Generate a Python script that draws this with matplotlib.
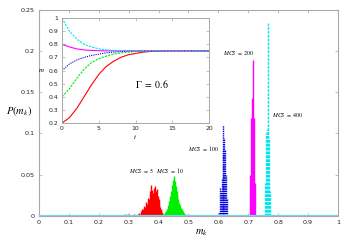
import matplotlib
matplotlib.use("Agg")
import matplotlib.pyplot as plt
import numpy as np

plt.rcParams['mathtext.fontset'] = 'stix'
plt.rcParams['font.family'] = ['DejaVu Sans']

# ---- histogram data: P(m_k) ----
m_red = [0.286, 0.297, 0.319, 0.325, 0.331, 0.334, 0.337, 0.340, 0.343, 0.346, 0.349, 0.352, 0.355,
         0.358, 0.361, 0.364, 0.367, 0.370, 0.373, 0.376, 0.379, 0.382, 0.385, 0.388, 0.391,
         0.394, 0.397, 0.400, 0.403, 0.406, 0.409, 0.412, 0.415]
p_red = [0.002, 0.002, 0.003, 0.001, 0.002, 0.004, 0.003, 0.006, 0.005, 0.009, 0.008, 0.012, 0.011,
         0.017, 0.015, 0.022, 0.020, 0.030, 0.026, 0.038, 0.031, 0.028, 0.034, 0.036, 0.030,
         0.033, 0.024, 0.020, 0.015, 0.011, 0.008, 0.005, 0.003]

m_green = [0.412, 0.415, 0.418, 0.421, 0.424, 0.427, 0.430, 0.433, 0.436, 0.439, 0.442, 0.445,
           0.448, 0.451, 0.454, 0.457, 0.460, 0.463, 0.466, 0.469, 0.472, 0.475, 0.478, 0.481,
           0.484, 0.487, 0.490]
p_green = [0.002, 0.003, 0.002, 0.005, 0.006, 0.008, 0.010, 0.013, 0.018, 0.024, 0.030, 0.038,
           0.044, 0.048, 0.042, 0.036, 0.030, 0.025, 0.020, 0.016, 0.013, 0.010, 0.008, 0.006,
           0.004, 0.003, 0.001]

m_blue = [0.602, 0.605, 0.608, 0.611, 0.614, 0.617, 0.620, 0.623, 0.626, 0.629]
p_blue = [0.005, 0.035, 0.030, 0.045, 0.080, 0.110, 0.095, 0.080, 0.050, 0.020]

m_mag = [0.706, 0.709, 0.712, 0.715, 0.718, 0.721]
p_mag = [0.050, 0.119, 0.143, 0.189, 0.119, 0.040]

m_cyan = [0.757, 0.760, 0.763, 0.766, 0.769, 0.772]
p_cyan = [0.040, 0.100, 0.105, 0.234, 0.095, 0.030]

labels = ['MCS = 5', 'MCS = 10', 'MCS = 100', 'MCS = 200', 'MCS = 400']
label_pos = [(0.300, 0.0495), (0.390, 0.0495), (0.500, 0.0765), (0.615, 0.192), (0.780, 0.118)]

# ---- inset data: m(t) ----
t_vals = [0, 1, 2, 3, 4, 5, 6, 7, 8, 9, 10, 11, 12, 13, 14, 15, 16, 17, 18, 19, 20]
m_t_red = [0.20, 0.24, 0.31, 0.40, 0.49, 0.57, 0.63, 0.67, 0.70, 0.72, 0.73, 0.74, 0.745, 0.748,
           0.749, 0.75, 0.75, 0.75, 0.75, 0.75, 0.75]
m_t_green = [0.40, 0.46, 0.54, 0.61, 0.66, 0.69, 0.71, 0.725, 0.735, 0.74, 0.745, 0.748, 0.749,
             0.75, 0.75, 0.75, 0.75, 0.75, 0.75, 0.75, 0.75]
m_t_blue = [0.60, 0.65, 0.68, 0.70, 0.715, 0.725, 0.735, 0.74, 0.745, 0.747, 0.749, 0.75, 0.75,
            0.75, 0.75, 0.75, 0.75, 0.75, 0.75, 0.75, 0.75]
m_t_mag = [0.80, 0.78, 0.765, 0.757, 0.753, 0.751, 0.75, 0.75, 0.75, 0.75, 0.75, 0.75, 0.75,
           0.75, 0.75, 0.75, 0.75, 0.75, 0.75, 0.75, 0.75]
m_t_cyan = [1.00, 0.90, 0.84, 0.80, 0.78, 0.765, 0.758, 0.754, 0.752, 0.751, 0.75, 0.75, 0.75,
            0.75, 0.75, 0.75, 0.75, 0.75, 0.75, 0.75, 0.75]

xticks_main = [0, 0.1, 0.2, 0.3, 0.4, 0.5, 0.6, 0.7, 0.8, 0.9, 1]
xticklabels_main = ['0', '0.1', '0.2', '0.3', '0.4', '0.5', '0.6', '0.7', '0.8', '0.9', '1']
yticks_main = [0, 0.05, 0.1, 0.15, 0.2, 0.25]
yticklabels_main = ['0', '0.05', '0.1', '0.15', '0.2', '0.25']
xticks_in = [0, 5, 10, 15, 20]
yticks_in = [0.2, 0.3, 0.4, 0.5, 0.6, 0.7, 0.8, 0.9, 1]
yticklabels_in = ['0.2', '0.3', '0.4', '0.5', '0.6', '0.7', '0.8', '0.9', '1']

c_red = '#ff0000'
c_green = '#00ee00'
c_blue = '#0000dd'
c_mag = '#ff00ff'
c_cyan = '#00e5ee'
spine_c = '#a8a8a8'

fig = plt.figure(figsize=(3.49, 2.44), dpi=100)
ax = fig.add_axes([0.1117, 0.1148, 0.8568, 0.8462])

series = [(m_red, p_red, c_red, '-'), (m_green, p_green, c_green, '-'),
          (m_blue, p_blue, c_blue, (0, (1, 0.6))), (m_mag, p_mag, c_mag, '-'),
          (m_cyan, p_cyan, c_cyan, (0, (2, 0.8)))]
for mx, py, c, ls in series:
    ax.vlines(mx, 0, py, colors=c, linewidth=1.0, linestyles=ls)
ax.axhline(0, color='#70d8e8', linewidth=1.6, zorder=3)

for txt, (x, y) in zip(labels, label_pos):
    ax.text(x, y, '$\\mathit{' + txt.replace(' ', '\\ ') + '}$', fontsize=4.2,
            ha='left', va='bottom')

ax.set_xlim(0, 1)
ax.set_ylim(0, 0.25)
ax.set_xticks(xticks_main)
ax.set_xticklabels(xticklabels_main)
ax.set_yticks(yticks_main)
ax.set_yticklabels(yticklabels_main)
ax.tick_params(direction='in', length=2.5, width=0.5, colors=spine_c, labelcolor='#222222',
               labelsize=4.6, top=True, right=True, pad=3)
for s in ax.spines.values():
    s.set_color(spine_c)
    s.set_linewidth(0.8)

fig.text(0.055, 0.545, '$P(m_k)$', fontsize=7.5, ha='center', va='center')
fig.text(0.578, 0.045, '$m_k$', fontsize=7.5, ha='center', va='center')

# ---- inset ----
ax2 = fig.add_axes([0.1777, 0.496, 0.4212, 0.430])
ax2.plot(t_vals, m_t_red, color=c_red, linewidth=0.8, linestyle='-')
ax2.plot(t_vals, m_t_green, color=c_green, linewidth=0.8, linestyle=(0, (2, 1)))
ax2.plot(t_vals, m_t_blue, color=c_blue, linewidth=0.8, linestyle=(0, (1, 1)))
ax2.plot(t_vals, m_t_mag, color=c_mag, linewidth=0.8, linestyle='-')
ax2.plot(t_vals, m_t_cyan, color=c_cyan, linewidth=0.8, linestyle=(0, (2, 1)))
ax2.set_xlim(0, 20)
ax2.set_ylim(0.2, 1)
ax2.set_xticks(xticks_in)
ax2.set_yticks(yticks_in)
ax2.set_yticklabels(yticklabels_in)
ax2.tick_params(direction='in', length=2, width=0.5, colors=spine_c, labelcolor='#222222',
                labelsize=4.4, top=True, right=True, pad=2.5)
for s in ax2.spines.values():
    s.set_color(spine_c)
    s.set_linewidth(0.7)
ax2.text(9.9, 0.5, '$\\Gamma\\ =\\ \\mathit{0.6}$', fontsize=7, ha='left', va='center')
ax2.set_xlabel('$t$', fontsize=5, labelpad=1)
ax2.set_ylabel('$m$', fontsize=5, rotation=0, labelpad=5, va='center')

fig.savefig('out.png', dpi=100)
